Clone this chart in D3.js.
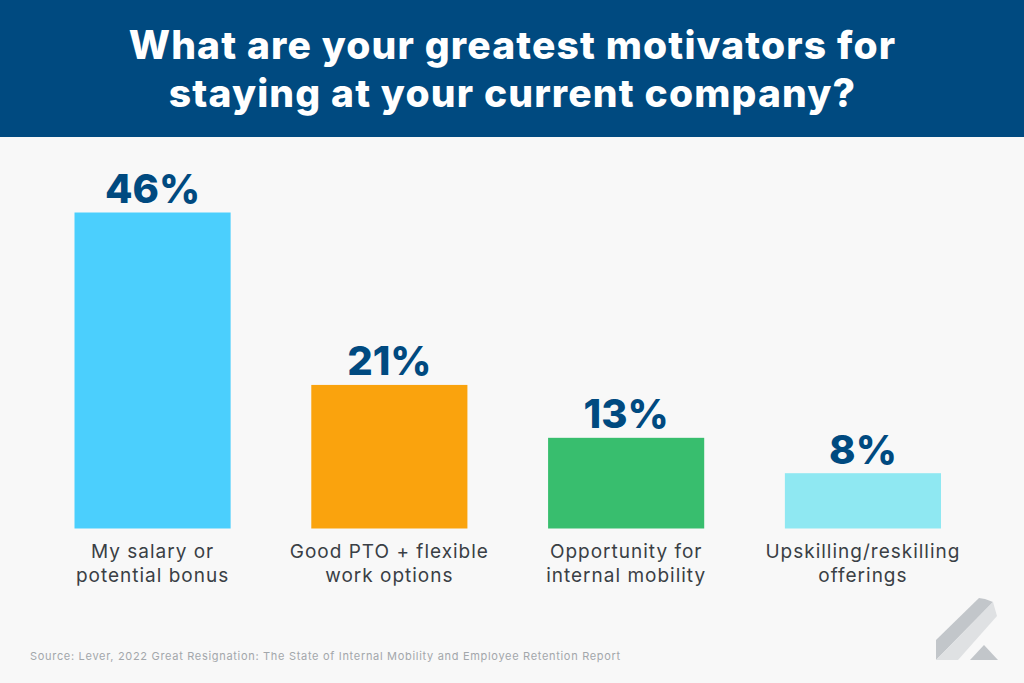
<!DOCTYPE html>
<html><head><meta charset="utf-8">
<script src="https://cdn.jsdelivr.net/npm/d3@7/dist/d3.min.js"></script>
<style>html,body{margin:0;padding:0;background:#f8f8f8;overflow:hidden}svg{display:block}</style>
</head><body><svg id="c" width="1024" height="683"></svg>
<script>
const categories = ["My salary or|potential bonus","Good PTO + flexible|work options","Opportunity for|internal mobility","Upskilling/reskilling|offerings"];
const values = [46,20.9,13.2,8.05];
const valueLabels = ["46%","21%","13%","8%"];
const colors = ["#4bcffd","#faa30d","#38be6e","#8fe8f2"];
const titleLines = ["What are your greatest motivators for","staying at your current company?"];
const source = "Source: Lever, 2022 Great Resignation: The State of Internal Mobility and Employee Retention Report";

const svg = d3.select("#c");
svg.append("rect").attr("width",1024).attr("height",683).attr("fill","#f8f8f8");
svg.append("rect").attr("width",1024).attr("height",137).attr("fill","#004a80");
svg.selectAll("text.title").data(titleLines).join("text").attr("class","title")
  .attr("x",512.5).attr("y",(d,i)=>59+i*48).attr("text-anchor","middle")
  .attr("font-family","Inter").attr("font-weight",800).attr("font-size",39).attr("letter-spacing",1.15).attr("fill","#fff").text(d=>d);

const x = d3.scaleBand().domain(categories).range([74.5,941]).paddingInner(0.3407).paddingOuter(0);
const y = d3.scaleLinear().domain([0,46]).range([528.5,212.5]);

svg.selectAll("rect.bar").data(values).join("rect").attr("class","bar")
  .attr("x",(d,i)=>x(categories[i])).attr("width",x.bandwidth())
  .attr("y",d=>y(d)).attr("height",d=>y(0)-y(d)).attr("fill",(d,i)=>colors[i]);

svg.selectAll("text.val").data(values).join("text").attr("class","val")
  .attr("x",(d,i)=>x(categories[i])+x.bandwidth()/2).attr("y",d=>y(d)-9.5)
  .attr("text-anchor","middle").attr("font-family","Inter").attr("font-weight",800)
  .attr("font-size",40).attr("fill","#004a80").text((d,i)=>valueLabels[i]);

const lab = svg.selectAll("g.lab").data(categories).join("g").attr("class","lab")
  .attr("transform",d=>`translate(${x(d)+x.bandwidth()/2},0)`);
lab.selectAll("text").data(d=>d.split("|")).join("text")
  .attr("y",(d,i)=>558+i*24).attr("text-anchor","middle").attr("font-family","Inter")
  .attr("font-size",19).attr("letter-spacing",1).attr("fill","#3a3f45").text(d=>d);

svg.append("text").attr("x",30).attr("y",660).attr("font-family","Inter")
  .attr("font-size",11).attr("letter-spacing",0.69).attr("fill","#a3a7ab").text(source);

// logo
const logo = svg.append("g");
const line = d3.line();
logo.append("path").attr("d",line([[936,660],[936,640],[979,598],[985,599],[993,602]])+"Z").attr("fill","#c2c6ca");
logo.append("path").attr("d",line([[936,660],[993,602],[997,616],[958,660]])+"Z").attr("fill","#dfe1e3");
logo.append("path").attr("d",line([[970,660],[984,645],[998,660]])+"Z").attr("fill","#c2c6ca");
</script></body></html>
